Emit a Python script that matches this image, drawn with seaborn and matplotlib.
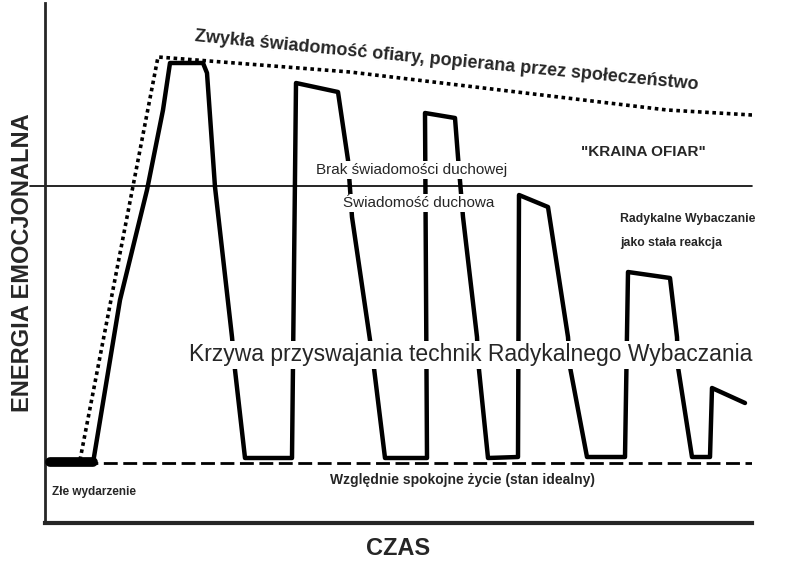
import matplotlib
matplotlib.use("Agg")
import matplotlib.pyplot as plt
import pandas as pd
import seaborn as sns

# Diagram values (time and energy in arbitrary units)
krzywa_czas = [5, 48, 75, 102, 118, 125, 158, 162, 170, 187, 190, 200,
               247, 251, 293, 303, 307, 325, 328, 340,
               382, 380, 410, 413, 418, 432, 433, 443,
               473, 474, 503, 523, 525, 542,
               580, 583, 625, 632, 633, 647,
               665, 667, 700]
krzywa_energia = [60, 60, 223, 333, 413, 460, 460, 450, 336, 186, 153, 65,
                  65, 440, 431, 363, 306, 183, 163, 65,
                  65, 410, 405, 366, 306, 186, 163, 65,
                  66, 328, 316, 186, 156, 66,
                  66, 251, 245, 186, 156, 66,
                  66, 135, 120]

ofiara_czas = [35, 113, 305, 622, 707]
ofiara_energia = [63, 466, 451, 413, 408]

zdarzenie_czas = [5, 48]
zdarzenie_energia = [61, 61]

poziom_spokoju = 60
prog_swiadomosci = 337

sns.set_style("white")
plt.rcParams["font.family"] = ["Liberation Sans", "DejaVu Sans"]

fig = plt.figure(figsize=(7.87, 5.61), dpi=100)
ax = fig.add_axes([45 / 787, 38 / 561, 707 / 787, 520 / 561])

df_k = pd.DataFrame({"czas": krzywa_czas, "energia": krzywa_energia})
df_o = pd.DataFrame({"czas": ofiara_czas, "energia": ofiara_energia})
df_z = pd.DataFrame({"czas": zdarzenie_czas, "energia": zdarzenie_energia})

sns.lineplot(data=df_o, x="czas", y="energia", sort=False, estimator=None,
             color="black", lw=2.6, linestyle=(0, (1, 1)), ax=ax, zorder=2)
sns.lineplot(data=df_k, x="czas", y="energia", sort=False, estimator=None,
             color="black", lw=3.2, ax=ax, zorder=3)
sns.lineplot(data=df_z, x="czas", y="energia", sort=False, estimator=None,
             color="black", lw=7, ax=ax, zorder=3)

ax.axhline(poziom_spokoju, color="black", lw=2, linestyle=(0, (5, 2)), zorder=1)
ax.plot([-15, 707], [prog_swiadomosci, prog_swiadomosci], color="black",
        lw=1.2, clip_on=False, zorder=1)

ax.set_xlim(0, 707)
ax.set_ylim(0, 520)
ax.set_xticks([])
ax.set_yticks([])
for side in ["top", "right"]:
    ax.spines[side].set_visible(False)
ax.spines["left"].set_linewidth(2)
ax.spines["bottom"].set_linewidth(3)

ax.set_xlabel("CZAS", fontsize=17, fontweight="bold", labelpad=10)
ax.set_ylabel("ENERGIA EMOCJONALNA", fontsize=17, fontweight="bold", labelpad=8)

white = dict(facecolor="white", edgecolor="none", pad=1.5)

ax.text(402, 462, "Zwykła świadomość ofiary, popierana przez społeczeństwo",
        ha="center", va="center", rotation=-5.5, fontsize=13, fontweight="bold")
ax.text(367, 353, "Brak świadomości duchowej", ha="center", va="center",
        fontsize=11, bbox=white, zorder=4)
ax.text(374, 320, "Świadomość duchowa", ha="center", va="center",
        fontsize=11, bbox=white, zorder=4)
ax.text(598, 371, "\"KRAINA OFIAR\"", ha="center", va="center",
        fontsize=11, fontweight="bold")
ax.text(575, 304, "Radykalne Wybaczanie", ha="left", va="center",
        fontsize=8.8, fontweight="bold")
ax.text(575, 280, "jako stała reakcja", ha="left", va="center",
        fontsize=8.8, fontweight="bold")
ax.text(426, 168, "Krzywa przyswajania technik Radykalnego Wybaczania",
        ha="center", va="center", fontsize=16.5, bbox=white, zorder=4)
ax.text(7, 31, "Złe wydarzenie", ha="left", va="center",
        fontsize=8.5, fontweight="bold")
ax.text(418, 43, "Względnie spokojne życie (stan idealny)", ha="center",
        va="center", fontsize=10, fontweight="bold")

fig.savefig("out.png", dpi=100)
